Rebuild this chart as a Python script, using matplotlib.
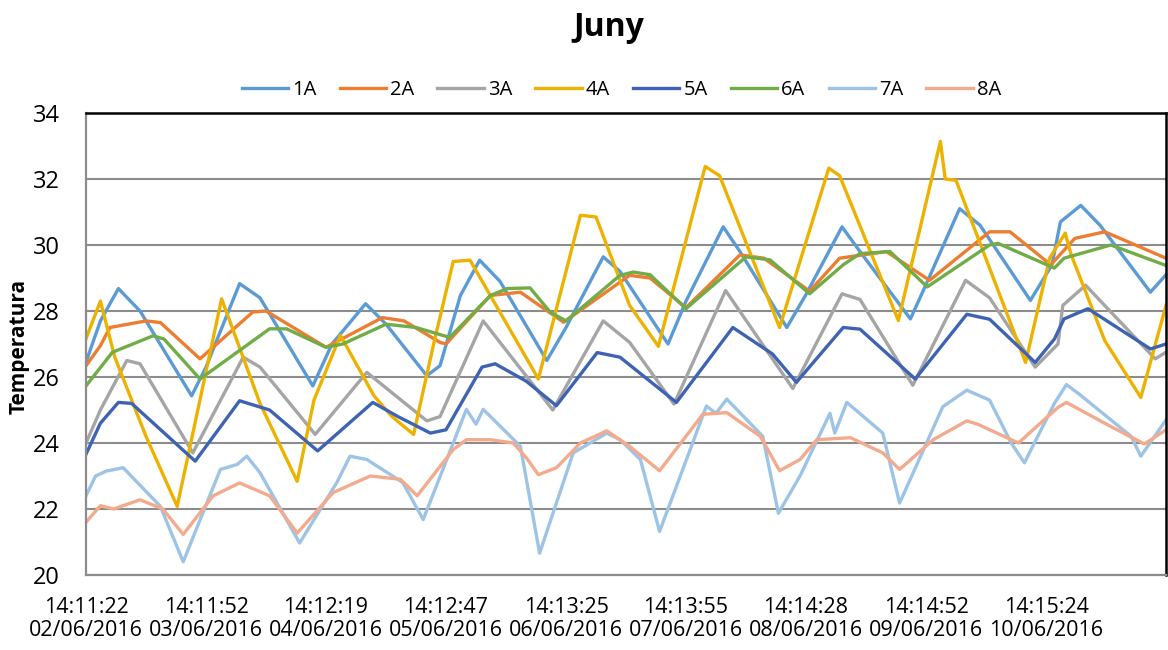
import matplotlib
matplotlib.use("Agg")
import matplotlib.pyplot as plt

plt.rcParams["font.family"] = ["Open Sans", "DejaVu Sans"]

# x in days since 02/06/2016 14:11, temperatures
labels = ["14:11:22\n02/06/2016", "14:11:52\n03/06/2016", "14:12:19\n04/06/2016",
          "14:12:47\n05/06/2016", "14:13:25\n06/06/2016", "14:13:55\n07/06/2016",
          "14:14:28\n08/06/2016", "14:14:52\n09/06/2016", "14:15:24\n10/06/2016"]

t_1a = [0, 0.12, 0.27, 0.45, 0.88, 1.0, 1.28, 1.45, 1.89, 2.05, 2.33, 2.5, 2.84, 2.95, 3.12, 3.28, 3.45,
        3.84, 4.0, 4.31, 4.45, 4.85, 5.0, 5.31, 5.45, 5.84, 6.0, 6.3, 6.45, 6.87, 7.0, 7.28, 7.45,
        7.87, 8.05, 8.12, 8.29, 8.45, 8.87, 9.0]
v_1a = [26.45, 27.7, 28.68, 28.0, 25.43, 26.3, 28.83, 28.4, 25.73, 27.0, 28.22, 27.6, 26.04, 26.34, 28.47, 29.54, 28.9,
        26.5, 27.5, 29.64, 29.2, 27.0, 28.3, 30.55, 29.8, 27.5, 28.5, 30.55, 29.8, 27.76, 28.8, 31.1, 30.6,
        28.32, 29.4, 30.7, 31.2, 30.6, 28.57, 29.1]

t_2a = [0, 0.12, 0.2, 0.5, 0.62, 0.95, 1.39, 1.5, 2.0, 2.47, 2.65, 2.95, 3.0, 3.37, 3.62, 3.98, 4.53, 4.7,
        5.0, 5.45, 5.65, 6.03, 6.28, 6.67, 7.03, 7.53, 7.7, 8.04, 8.24, 8.49, 9.0]
v_2a = [26.34, 26.95, 27.5, 27.7, 27.65, 26.55, 27.97, 28.0, 26.9, 27.8, 27.7, 27.05, 27.0, 28.47, 28.57, 27.66, 29.08, 29.0,
        28.1, 29.7, 29.6, 28.6, 29.6, 29.8, 28.93, 30.4, 30.4, 29.4, 30.2, 30.4, 29.6]

t_3a = [0, 0.12, 0.34, 0.45, 0.89, 1.31, 1.45, 1.91, 2.34, 2.84, 2.95, 3.31, 3.89, 4.31, 4.53, 4.9, 5.33,
        5.89, 6.3, 6.45, 6.89, 7.33, 7.53, 7.91, 8.1, 8.14, 8.33, 8.91, 9.0]
v_3a = [24.0, 25.0, 26.5, 26.4, 23.7, 26.6, 26.3, 24.26, 26.14, 24.67, 24.8, 27.7, 25.0, 27.7, 27.05, 25.18, 28.62,
        25.65, 28.52, 28.35, 25.75, 28.93, 28.4, 26.3, 27.0, 28.17, 28.78, 26.55, 26.75]

t_4a = [0, 0.12, 0.24, 0.5, 0.76, 1.13, 1.45, 1.76, 1.9, 2.12, 2.4, 2.55, 2.73, 2.9, 3.06, 3.2, 3.77,
        4.12, 4.25, 4.53, 4.77, 5.16, 5.28, 5.78, 6.19, 6.28, 6.77, 7.12, 7.16, 7.25, 7.83, 8.03,
        8.16, 8.21, 8.49, 8.79, 9.0]
v_4a = [27.16, 28.3, 26.6, 24.2, 22.08, 28.37, 25.2, 22.84, 25.3, 27.26, 25.43, 24.8, 24.26, 27.05, 29.5, 29.54, 25.94,
        30.9, 30.85, 28.17, 26.93, 32.38, 32.1, 27.5, 32.33, 32.1, 27.71, 33.14, 32.0, 31.96, 26.44, 29.6,
        30.36, 29.7, 27.1, 25.38, 28.17]

t_5a = [0, 0.12, 0.27, 0.38, 0.91, 1.28, 1.53, 1.93, 2.39, 2.6, 2.87, 3.0, 3.3, 3.41, 3.67, 3.92, 4.26, 4.45,
        4.92, 5.39, 5.72, 5.92, 6.31, 6.45, 6.91, 7.34, 7.53, 7.91, 8.07, 8.15, 8.35, 8.87, 9.0]
v_5a = [23.66, 24.6, 25.23, 25.2, 23.45, 25.28, 25.0, 23.76, 25.23, 24.8, 24.3, 24.4, 26.3, 26.4, 25.87, 25.13, 26.74, 26.6,
        25.23, 27.5, 26.7, 25.84, 27.5, 27.45, 25.94, 27.9, 27.75, 26.44, 27.15, 27.76, 28.07, 26.85, 27.0]

t_6a = [0, 0.22, 0.56, 0.65, 0.95, 1.53, 1.67, 2.0, 2.14, 2.5, 2.75, 3.03, 3.37, 3.51, 3.7, 3.87, 4.0,
        4.45, 4.56, 4.7, 5.0, 5.5, 5.7, 6.03, 6.31, 6.45, 6.7, 7.01, 7.53, 7.6, 8.07, 8.15, 8.54, 9.0]
v_6a = [25.73, 26.75, 27.25, 27.15, 25.94, 27.46, 27.46, 26.9, 27.0, 27.6, 27.5, 27.2, 28.47, 28.68, 28.7, 27.96, 27.7,
        29.08, 29.18, 29.1, 28.07, 29.64, 29.55, 28.52, 29.4, 29.74, 29.8, 28.73, 30.0, 30.05, 29.3, 29.6, 30.0, 29.38]

t_7a = [0, 0.08, 0.17, 0.31, 0.62, 0.81, 1.12, 1.26, 1.34, 1.45, 1.78, 2.09, 2.2, 2.34, 2.64, 2.81,
        3.17, 3.25, 3.31, 3.62, 3.78, 4.06, 4.34, 4.45, 4.62, 4.78, 5.17, 5.25, 5.34, 5.64, 5.77,
        5.95, 6.2, 6.24, 6.34, 6.64, 6.78, 7.14, 7.34, 7.53, 7.71, 7.82, 8.07, 8.17, 8.27, 8.71, 8.79, 9.0]
v_7a = [22.4, 23.0, 23.15, 23.25, 22.08, 20.4, 23.2, 23.35, 23.6, 23.1, 20.97, 22.8, 23.6, 23.5, 22.8, 21.68,
        25.02, 24.57, 25.02, 23.9, 20.66, 23.7, 24.3, 24.1, 23.5, 21.32, 25.12, 24.9, 25.33, 24.2, 21.87,
        23.0, 24.9, 24.3, 25.23, 24.3, 22.18, 25.1, 25.6, 25.3, 24.0, 23.4, 25.2, 25.77, 25.5, 24.2, 23.6, 24.7]

t_8a = [0, 0.12, 0.23, 0.45, 0.64, 0.81, 1.06, 1.28, 1.53, 1.76, 2.06, 2.37, 2.62, 2.76, 3.06, 3.17,
        3.37, 3.56, 3.67, 3.77, 3.92, 4.12, 4.34, 4.53, 4.78, 5.14, 5.34, 5.62, 5.78, 5.95, 6.09, 6.37,
        6.64, 6.78, 7.06, 7.34, 7.43, 7.77, 8.1, 8.17, 8.54, 8.82, 9.0]
v_8a = [21.6, 22.1, 22.0, 22.28, 22.0, 21.23, 22.4, 22.79, 22.4, 21.27, 22.5, 23.0, 22.9, 22.4, 23.8, 24.1,
        24.1, 24.0, 23.55, 23.04, 23.25, 24.0, 24.37, 23.9, 23.16, 24.87, 24.92, 24.2, 23.16, 23.5, 24.1, 24.16,
        23.7, 23.2, 24.1, 24.67, 24.57, 24.0, 25.08, 25.23, 24.5, 23.97, 24.4]

series = [("1A", t_1a, v_1a, "#5B9BD5"), ("2A", t_2a, v_2a, "#ED7D31"),
          ("3A", t_3a, v_3a, "#A5A5A5"), ("4A", t_4a, v_4a, "#EDB200"),
          ("5A", t_5a, v_5a, "#3E63B2"), ("6A", t_6a, v_6a, "#70AD47"),
          ("7A", t_7a, v_7a, "#9DC3E6"), ("8A", t_8a, v_8a, "#F4AA8C")]

fig = plt.figure(figsize=(11.68, 6.5), dpi=100)
ax = fig.add_axes([86/1168, 1-575/650, 1080/1168, 462/650])

for name, t, v, c in series:
    ax.plot(t, v, color=c, linewidth=2.4, label=name, solid_joinstyle="round")

ax.set_xlim(0, 9)
ax.set_ylim(20, 34)
ax.set_yticks(range(20, 35, 2))
ax.set_xticks(range(9))
ax.set_xticklabels(labels, fontsize=15.5, linespacing=1.12)
ax.tick_params(axis="y", labelsize=17, length=0, pad=19)
ax.tick_params(axis="x", length=0, pad=16)
ax.grid(axis="y", color="#8c8c8c", linewidth=1.5)
ax.set_axisbelow(True)
for s in ["top", "right"]:
    ax.spines[s].set_color("black")
    ax.spines[s].set_linewidth(1.8)
for s in ["left", "bottom"]:
    ax.spines[s].set_color("#8c8c8c")
    ax.spines[s].set_linewidth(1.6)

ax.set_ylabel("Temperatura", fontsize=15, fontweight="bold")
ax.yaxis.set_label_coords(-0.0525, 0.495)

fig.text(609/1168, 1-27/650, "Juny", fontsize=23, fontweight="bold", ha="center", va="center")
fig.legend(loc="center", ncol=8, bbox_to_anchor=(0.532, 1-90/650), frameon=False,
           fontsize=14.5, handlelength=2.3, columnspacing=1.15, handletextpad=0.2)

fig.savefig("out.png", dpi=100)
